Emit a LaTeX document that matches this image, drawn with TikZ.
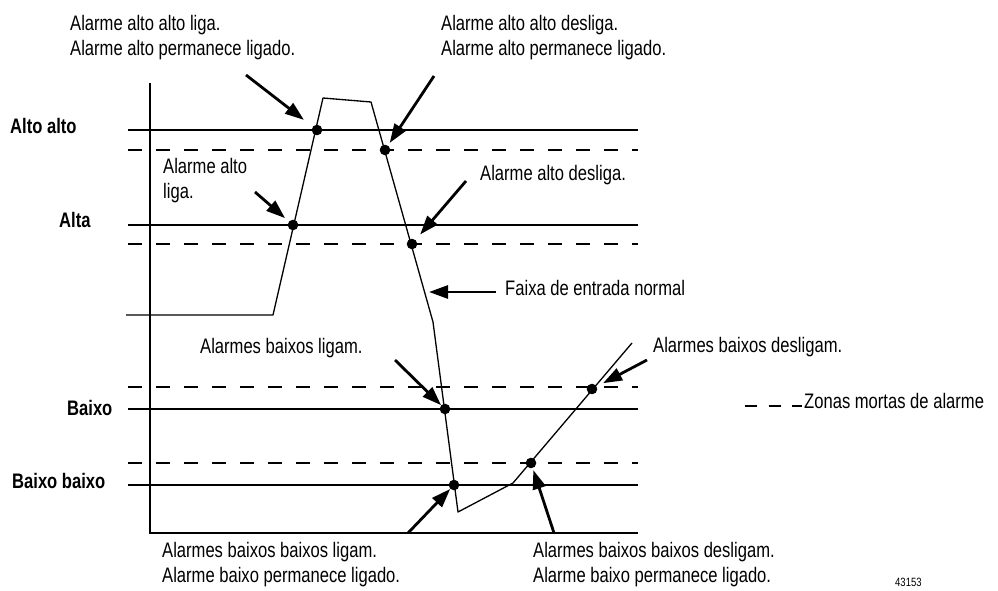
\documentclass[tikz,border=0pt]{standalone}
\usepackage{fontspec}
\setmainfont[FakeStretch=0.79]{Liberation Sans}
\usetikzlibrary{arrows.meta}

\begin{document}
\begin{tikzpicture}[
        x=1pt, y=-1pt,
        txt/.style={anchor=north west, inner sep=0pt, align=left,
                font=\fontsize{21}{25}\selectfont},
        lvl/.style={anchor=north west, inner sep=0pt,
                font=\fontsize{21}{25}\selectfont\bfseries},
        limit/.style={line width=1.3pt},
        band/.style={line width=1.3pt, dash pattern=on 14pt off 14pt},
        signal/.style={line width=1.3pt, line join=round},
        hit/.style={circle, fill=black, inner sep=0pt, minimum size=10.6pt},
        callout/.style={line width=2.8pt, -{Triangle[length=19pt,width=13pt]}}
    ]

    \useasboundingbox (0,0) rectangle (998,591);

    \coordinate (top) at (150,83);
    \coordinate (origin) at (150,533);
    \coordinate (xend) at (638,533);
    \draw[limit] (top) -- (origin) -- (xend);

    \foreach \y in {130,225,409,485}
        \draw[limit] (128,\y) -- (638,\y);
    \foreach \y in {150,244,387,463}
        \draw[band] (128,\y) -- (638,\y);

    \draw[signal] (126,315) -- (273,315) -- (323,98) -- (371,102) -- (433,322)
        -- (458,512) -- (513,483) -- (632,343);

    \node[hit] (hhOn) at (317,130) {};
    \node[hit] (hOn) at (293,225) {};
    \node[hit] (hhOff) at (385,150) {};
    \node[hit] (hOff) at (412,244) {};
    \node[hit] (lOn) at (445,409) {};
    \node[hit] (llOn) at (454,485) {};
    \node[hit] (llOff) at (531,463) {};
    \node[hit] (lOff) at (592,389) {};

    \node[lvl] (hhLvl) at (10,118) {Alto alto};
    \node[lvl] (hLvl) at (59,212) {Alta};
    \node[lvl] (lLvl) at (67,400) {Baixo};
    \node[lvl] (llLvl) at (12,473) {Baixo baixo};

    \node[txt] (hhOnTxt) at (70,15) {Alarme alto alto liga.\\Alarme alto permanece ligado.};
    \node[txt] (hhOffTxt) at (441,15) {Alarme alto alto desliga.\\Alarme alto permanece ligado.};
    \node[txt] (hOnTxt) at (163,158) {Alarme alto\\liga.};
    \node[txt] (hOffTxt) at (480,165) {Alarme alto desliga.};
    \node[txt] (normTxt) at (505,280) {Faixa de entrada normal};
    \node[txt] (lOnTxt) at (200,338) {Alarmes baixos ligam.};
    \node[txt] (lOffTxt) at (653,337) {Alarmes baixos desligam.};
    \node[txt] (zoneTxt) at (804,393) {Zonas mortas de alarme};
    \node[txt] (llOnTxt) at (162,542) {Alarmes baixos baixos ligam.\\Alarme baixo permanece ligado.};
    \node[txt] (llOffTxt) at (533,542) {Alarmes baixos baixos desligam.\\Alarme baixo permanece ligado.};
    \node[txt, font=\fontsize{12}{14}\selectfont] (figNo) at (895,578) {43153};

    \draw[line width=1.3pt, dash pattern=on 12pt off 11.5pt] (745,406) -- (802,406);

    \coordinate (hhOnTail) at (246,75);
    \coordinate (hhOffTail) at (434,76);
    \coordinate (hOnTail) at (255,192);
    \coordinate (hOffTail) at (466,181);
    \coordinate (normTail) at (496,292);
    \coordinate (normTip) at (429,292);
    \coordinate (lOnTail) at (395,360);
    \coordinate (llOnTail) at (408,533);
    \coordinate (llOffTail) at (554,533);
    \coordinate (lOffTail) at (647,360);

    \draw[callout, shorten >=11pt] (hhOnTail) -- (hhOn);
    \draw[callout, shorten >=3pt] (hhOffTail) -- (hhOff);
    \draw[callout, shorten >=5pt] (hOnTail) -- (hOn);
    \draw[callout, shorten >=7pt] (hOffTail) -- (hOff);
    \draw[callout] (normTail) -- (normTip);
    \draw[callout] (lOnTail) -- (lOn);
    \draw[callout] (llOnTail) -- (llOn);
    \draw[callout, shorten >=2pt] (llOffTail) -- (llOff);
    \draw[callout, shorten >=7pt] (lOffTail) -- (lOff);

\end{tikzpicture}
\end{document}
